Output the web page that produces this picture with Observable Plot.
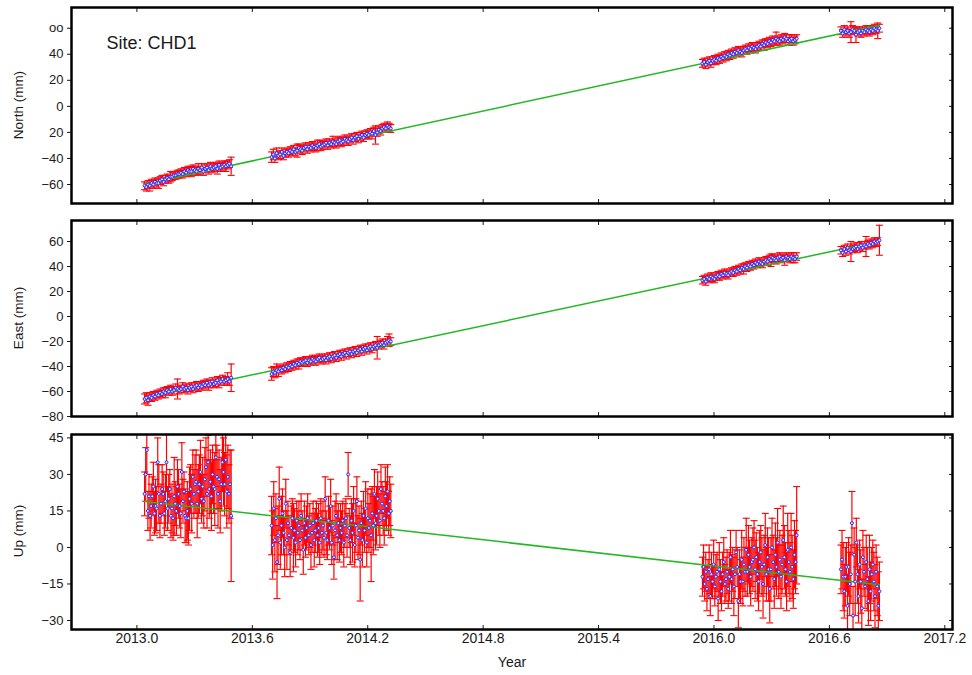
<!DOCTYPE html>
<html><head><meta charset="utf-8">
<script src="https://cdn.jsdelivr.net/npm/d3@7"></script>
<script src="https://cdn.jsdelivr.net/npm/@observablehq/plot@0.6"></script>
<style>
body{margin:0;background:#fff;}
#wrap{position:relative;width:972px;height:675px;overflow:hidden;font-family:"Liberation Sans",Arial,sans-serif;color:#1a1a1a;}
#wrap svg{position:absolute;left:0;}
.ylab{position:absolute;left:18px;font-size:13.5px;white-space:nowrap;transform:translate(-50%,-50%) rotate(-90deg);}
.xlab{position:absolute;font-size:14px;transform:translate(-50%,-50%);}
</style></head><body><div id="wrap"></div>
<script>
// ---- epochs of the four observation campaigns (decimal years) ----
const segStart = [2013.04, 2013.70, 2015.94, 2016.66];
const segEnd   = [2013.49, 2014.32, 2016.43, 2016.86];

// ---- North (mm) ----
const northS1 = [-61,-62,-60,-61,-59,-60,-58,-59,-59,-57,-56,-58,-56,-55,-56,-54,-54,-53,-53,-52,-52,-51,-52,-50,-51,-49,-50,-50,-48,-49,-50,-48,-49,-47,-50,-48,-47,-49,-46,-48,-47,-46,-48,-45,-47,-46,-45,-46,-45,-44,-46];
const northS2 = [-39,-37,-40,-36,-38,-37,-35,-38,-36,-35,-36,-34,-35,-33,-35,-34,-32,-33,-34,-32,-31,-33,-31,-32,-30,-31,-32,-30,-29,-31,-30,-29,-28,-30,-28,-29,-27,-28,-29,-27,-26,-28,-27,-25,-26,-27,-25,-24,-26,-24,-23,-25,-23,-22,-24,-22,-21,-22,-20,-21,-19,-22,-20,-18,-19,-17,-16,-17,-15,-16,-17];
const northS3 = [33,34,32,34,35,33,35,36,35,37,36,38,37,39,38,40,39,41,40,42,41,43,42,41,43,44,43,45,44,46,45,44,46,47,46,48,47,49,48,50,49,51,50,52,51,50,52,51,53,52,50,51,52,50,51,52];
const northS4 = [58,56,59,57,58,56,57,59,58,55,57,58,56,58,57,59,58,57,59,58,60,59,58,60];
const northE1 = [3,3,3,4,3,3,3,3,4,3,3,3,3,3,3,4,3,3,3,3,3,3,3,3,3,3,3,4,3,3,3,4,3,3,3,3,3,3,3,3,3,3,4,3,3,3,3,4,3,3,7];
const northE2 = [4,4,3,4,3,3,3,3,3,3,3,3,3,3,3,5,3,3,3,3,3,3,3,3,3,3,3,4,3,3,3,3,3,3,3,3,4,3,3,3,3,3,3,3,3,3,3,3,3,3,3,3,3,3,3,3,3,3,3,4,3,7,3,3,3,3,3,3,3,3,3];
const northE3 = [3,3,3,3,3,3,3,3,3,3,3,3,3,3,3,3,3,3,3,3,3,3,3,3,3,3,3,3,3,3,3,3,3,3,3,3,4,3,3,3,3,3,3,5,3,3,3,3,3,3,3,4,3,3,3,3];
const northE4 = [3,3,3,3,3,3,8,3,3,6,3,3,3,3,3,3,3,3,3,3,3,3,6,3];

// ---- East (mm) ----
const eastS1 = [-66,-65,-67,-64,-65,-63,-64,-62,-63,-61,-62,-60,-61,-59,-60,-58,-60,-59,-57,-58,-59,-58,-56,-58,-57,-59,-57,-56,-58,-56,-55,-57,-55,-56,-54,-55,-53,-55,-54,-52,-54,-53,-51,-53,-52,-50,-52,-51,-50,-52,-49];
const eastS2 = [-46,-44,-45,-43,-44,-42,-43,-41,-42,-40,-41,-39,-40,-38,-39,-37,-38,-36,-37,-36,-35,-37,-35,-36,-34,-35,-36,-34,-33,-35,-34,-33,-35,-33,-32,-34,-32,-31,-33,-31,-30,-32,-30,-29,-31,-29,-28,-30,-28,-27,-29,-27,-26,-28,-26,-25,-27,-25,-24,-26,-24,-23,-25,-23,-22,-21,-23,-21,-20,-19,-20];
const eastS3 = [29,30,28,31,30,32,31,30,32,33,32,34,33,35,34,33,35,36,35,37,36,38,37,39,38,40,39,41,40,42,41,43,42,44,43,42,44,45,44,46,45,47,46,45,47,48,46,47,45,48,47,46,48,47,46,48];
const eastS4 = [53,51,54,52,55,53,52,54,55,56,54,56,57,55,57,56,58,57,59,58,60,59,60,61];
const eastE1 = [4,4,4,3,3,3,3,3,3,3,3,3,4,3,3,3,3,3,3,8,3,3,3,3,3,3,3,3,3,3,3,3,3,3,3,3,3,4,3,3,3,3,3,4,3,3,3,3,5,3,11];
const eastE2 = [5,4,4,5,4,3,3,3,3,3,3,3,3,3,3,3,4,3,3,3,3,3,3,3,3,3,3,3,3,3,3,3,3,3,3,3,3,3,3,3,3,3,3,3,3,3,3,3,3,3,3,3,3,3,3,3,3,3,3,3,3,3,9,3,3,3,3,3,4,5,3];
const eastE3 = [3,3,3,3,3,3,3,3,3,3,3,3,3,3,3,3,3,3,3,3,3,3,3,3,4,3,3,3,3,3,3,3,3,3,3,3,3,3,3,3,5,3,3,3,3,3,3,3,4,3,3,3,3,4,3,3];
const eastE4 = [3,3,3,3,3,3,8,3,3,3,3,3,3,3,3,8,3,3,3,3,3,3,3,12];

// ---- Up (mm) ----
const upS1 = [22,30,40,15,21,13,17,21,25,14,17,16,35,22,13,18,24,22,14,19,35,16,20,24,13,16,12,21,18,15,25,22,17,14,31,19,23,13,12,15,12,20,24,18,29,22,26,27,18,23,26,31,20,25,19,28,33,22,35,24,27,21,30,25,24,37,29,22,28,19,26,35,31,26,36,23,29,22,26,13];
const upS2 = [9,1,16,3,12,-6,5,20,2,9,14,6,0,18,3,10,5,-2,8,12,4,7,2,11,6,9,3,13,7,-1,10,4,8,12,5,9,1,6,10,3,7,11,5,8,2,12,6,9,4,20,6,3,11,8,17,2,9,-4,7,13,5,10,3,8,6,11,2,9,12,5,30,8,3,11,6,15,1,9,19,4,7,-5,10,3,13,7,16,2,12,8,11,5,14,9,22,10,13,20,15,11,24,18,15,12,21,17,23,14,19,15];
const upS3 = [-12,-8,-15,-10,-17,-13,-9,-20,-11,-14,-7,-16,-12,-10,-21,-9,-14,-18,-11,-6,-15,-13,-10,-17,-12,-4,-13,-9,-16,-11,-2,-8,-22,-11,-14,-5,-14,-7,-10,-1,-10,-3,-8,-12,-6,-5,0,-9,-4,-11,-14,-6,-2,-8,-15,-7,1,-11,-4,-9,-17,-9,0,-6,-13,-3,-8,2,-10,-5,-12,-7,3,-4,-9,-14,-1,-6,-10,0,-8,-13,-3,-6,5];
const upS4 = [-9,-5,-12,-18,-12,-8,-24,-8,-15,-11,10,-28,-3,-14,2,-11,-20,-7,-14,-25,-4,-10,-16,-6,-13,-22,-9,-18,-11,-7,-14,-20,-10,-16,-24,-18];
const upE1 = [9,11,10,8,9,10,9,8,10,9,11,9,10,12,9,8,10,9,9,11,12,9,10,8,9,10,9,16,9,10,11,10,9,10,12,9,8,11,10,12,11,13,10,12,11,10,12,13,14,11,12,13,10,12,11,13,12,14,11,12,13,14,12,11,15,12,13,14,12,13,11,12,14,13,12,15,13,12,14,27];
const upE2 = [12,14,11,13,10,15,12,13,11,12,10,9,12,10,12,9,8,10,9,8,14,9,10,8,9,10,8,9,8,10,9,8,9,10,8,9,10,8,9,11,9,8,9,10,9,8,9,10,8,9,9,8,10,9,11,9,8,9,12,9,10,8,9,10,9,8,10,9,8,9,9,8,10,9,12,10,9,11,10,9,10,17,9,11,10,9,11,10,12,10,11,19,11,12,10,11,12,11,10,11,10,9,10,11,12,10,11,9,10,11];
const upE3 = [8,9,7,8,9,8,10,8,9,7,10,8,9,8,9,11,9,8,9,10,8,9,9,8,10,11,10,9,12,10,9,8,11,10,9,12,10,11,10,13,10,12,11,12,10,13,11,12,10,11,12,13,11,12,14,12,13,11,12,13,14,13,12,11,12,13,12,14,11,12,13,12,14,13,11,12,15,13,12,14,13,12,14,13,20];
const upE4 = [10,12,14,11,12,10,13,12,13,12,13,12,11,14,10,12,11,10,13,12,11,10,9,11,13,10,14,12,11,10,12,13,11,12,14,12];

// ---- linear trend (end points) ----
const trendYears = [2013.04, 2016.86];
const northTrend = [-59.8, 62.3];
const eastTrend  = [-65.0, 60.2];
const upTrend    = [18.9, -15.3];

// ---- ticks ----
const xTicks = [2013.0, 2013.6, 2014.2, 2014.8, 2015.4, 2016.0, 2016.6, 2017.2];
const northTicks = [60, 40, 20, 0, -20, -40, -60];
const northTickLabels = ["oo", "40", "20", "0", "20", "\u221240", "\u221260"];
const eastTicks = [60, 40, 20, 0, -20, -40, -60, -80];
const upTicks = [45, 30, 15, 0, -15, -30];

// ---------------------------------------------------------------
function build(segs, errs) {
  const rows = [];
  segs.forEach((vals, s) => {
    const n = vals.length, t0 = segStart[s], t1 = segEnd[s];
    vals.forEach((v, i) => {
      const e = errs[s][i] ?? 3;
      rows.push({t: t0 + (t1 - t0) * i / (n - 1), v, lo: v - e, hi: v + e});
    });
  });
  return rows;
}
const trendRows = vals => trendYears.map((t, i) => ({t, v: vals[i]}));
const cap = {draw(ctx, size) { const r = Math.sqrt(size / Math.PI); ctx.moveTo(-r, 0); ctx.lineTo(r, 0); }};
const minus = d => (d < 0 ? "\u2212" : "") + Math.abs(d);

const wrap = document.getElementById("wrap");
const RED = "#ff0000", BLUE = "#2b2bff", GREEN = "#22b822";

function panel({rows, trend, yDomain, yTicks, yFormat, top, height, mt, mb, xLabels, extra = []}) {
  const marks = [
    Plot.ruleX(rows, {x: "t", y1: "lo", y2: "hi", stroke: RED, strokeWidth: 1.2, clip: true}),
    Plot.dot(rows, {x: "t", y: "hi", symbol: cap, r: 3.5, stroke: RED, fill: "none", strokeWidth: 1.1, clip: true}),
    Plot.dot(rows, {x: "t", y: "lo", symbol: cap, r: 3.5, stroke: RED, fill: "none", strokeWidth: 1.1, clip: true}),
    Plot.line(trendRows(trend), {x: "t", y: "v", stroke: GREEN, strokeWidth: 1.5}),
    Plot.dot(rows, {x: "t", y: "v", r: 1.5, stroke: BLUE, fill: "#e4e4ff", strokeWidth: 1, clip: true}),
    Plot.axisY({anchor: "left", ticks: yTicks, tickFormat: yFormat, tickSize: 4, tickPadding: 4, label: null, fontSize: 13}),
    Plot.axisY({anchor: "right", ticks: yTicks, tickSize: 4, dx: -4, fill: "none", label: null}),
    Plot.axisX({anchor: "top", ticks: xTicks, tickSize: 4, dy: 4, fill: "none", label: null}),
    Plot.axisX({anchor: "bottom", ticks: xTicks, tickSize: 4, dy: -4, fill: "none", label: null}),
    ...extra,
    Plot.frame({stroke: "#000", strokeWidth: 2.5})
  ];
  if (xLabels) marks.push(Plot.axisX({anchor: "bottom", ticks: xTicks, tickSize: 0, tickPadding: 4, tickFormat: d => d.toFixed(1), label: null, fontSize: 14}));
  const svg = Plot.plot({
    width: 972, height, marginLeft: 71, marginRight: 20, marginTop: mt, marginBottom: mb,
    style: {fontFamily: "'Liberation Sans', Arial, sans-serif", fontSize: "13px", color: "#1a1a1a", background: "transparent"},
    x: {domain: [2012.66, 2017.24]},
    y: {domain: yDomain},
    marks
  });
  svg.style.top = top + "px";
  wrap.appendChild(svg);
}

panel({
  rows: build([northS1, northS2, northS3, northS4], [northE1, northE2, northE3, northE4]),
  trend: northTrend, yDomain: [-74.6, 75.9], yTicks: northTicks,
  yFormat: d => northTickLabels[northTicks.indexOf(d)],
  top: 0, height: 207, mt: 7, mb: 4, xLabels: false,
  extra: [Plot.text(["Site: CHD1"], {text: d => d, frameAnchor: "top-left", dx: 35, dy: 29, fontSize: 18, textAnchor: "start", fill: "#1a1a1a"})]
});
panel({
  rows: build([eastS1, eastS2, eastS3, eastS4], [eastE1, eastE2, eastE3, eastE4]),
  trend: eastTrend, yDomain: [-80, 76.8], yTicks: eastTicks, yFormat: minus,
  top: 213, height: 212, mt: 7, mb: 9, xLabels: false
});
panel({
  rows: build([upS1, upS2, upS3, upS4], [upE1, upE2, upE3, upE4]),
  trend: upTrend, yDomain: [-33.7, 46.4], yTicks: upTicks, yFormat: minus,
  top: 427, height: 248, mt: 7, mb: 46, xLabels: true
});

function addLabel(cls, text, x, y) {
  const d = document.createElement("div");
  d.className = cls; d.textContent = text;
  if (x != null) d.style.left = x + "px";
  d.style.top = y + "px";
  wrap.appendChild(d);
}
addLabel("ylab", "North (mm)", null, 105);
addLabel("ylab", "East (mm)", null, 318);
addLabel("ylab", "Up (mm)", null, 531);
addLabel("xlab", "Year", 512, 662);
</script></body></html>
